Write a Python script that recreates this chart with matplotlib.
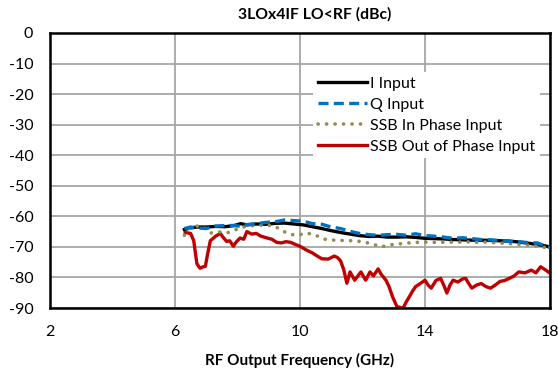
import matplotlib
matplotlib.use("Agg")
import matplotlib.pyplot as plt

plt.rcParams['font.family'] = ['Lato', 'DejaVu Sans']

title = "3LOx4IF LO<RF (dBc)"
xlabel = "RF Output Frequency (GHz)"
xticks = [2, 6, 10, 14, 18]
yticks = [0, -10, -20, -30, -40, -50, -60, -70, -80, -90]

i_freq = [6.3, 6.5, 6.7, 7.0, 7.3, 7.6, 7.9, 8.1, 8.3, 8.6, 8.9, 9.2, 9.5, 9.8, 10.1, 10.4, 10.7,
          11.0, 11.3, 11.6, 11.9, 12.2, 12.5, 12.8, 13.1, 13.4, 13.7, 14.0, 14.3, 14.6, 14.9, 15.2,
          15.5, 15.8, 16.1, 16.4, 16.7, 17.0, 17.3, 17.6, 17.8, 18.0]
i_vals = [-64.3, -63.8, -63.5, -63.5, -63.3, -63.4, -63.0, -62.4, -62.8, -62.5, -62.6, -62.3, -62.2,
          -62.5, -62.8, -63.4, -64.0, -64.7, -65.3, -65.8, -66.3, -66.6, -66.5, -66.8, -66.8, -66.7,
          -66.9, -67.2, -67.3, -67.4, -67.6, -67.7, -67.8, -67.8, -67.9, -68.0, -68.1, -68.4, -68.8,
          -69.2, -69.6, -70.0]

q_freq = i_freq
q_vals = [-64.0, -63.5, -63.8, -64.0, -63.2, -63.0, -63.0, -63.3, -62.7, -62.4, -62.0, -61.8, -61.2,
          -61.4, -61.6, -62.4, -62.6, -63.5, -64.0, -64.9, -65.6, -66.0, -66.2, -66.0, -65.9, -66.2,
          -65.7, -66.3, -66.5, -66.8, -67.2, -67.0, -67.3, -67.6, -67.7, -67.9, -68.2, -68.3, -68.6,
          -68.7, -69.5, -70.2]

ssb_in_freq = [6.3, 6.5, 6.7, 6.9, 7.1, 7.3, 7.5, 7.7, 7.9, 8.1, 8.3, 8.6, 8.9, 9.2, 9.4, 9.6, 9.8,
               10.0, 10.2, 10.5, 10.8, 11.1, 11.4, 11.7, 12.0, 12.3, 12.6, 12.9, 13.2, 13.5, 13.8,
               14.1, 14.4, 14.7, 15.0, 15.3, 15.6, 15.9, 16.2, 16.5, 16.8, 17.1, 17.4, 17.7, 18.0]
ssb_in_vals = [-66.2, -63.5, -63.2, -63.3, -65.5, -65.3, -65.0, -65.3, -64.5, -63.8, -63.2, -63.0,
               -62.8, -63.2, -64.6, -65.5, -66.1, -66.0, -65.4, -66.2, -67.5, -67.8, -67.9, -68.0,
               -68.3, -69.0, -70.0, -69.3, -69.0, -68.7, -68.5, -68.4, -68.6, -68.4, -68.5, -68.3,
               -68.5, -68.4, -68.6, -68.8, -69.0, -69.3, -69.4, -70.0, -70.4]

ssb_out_freq = [6.33, 6.5, 6.6, 6.7, 6.8, 6.9, 6.97, 7.05, 7.13, 7.3, 7.45, 7.55, 7.65, 7.75, 7.87,
                7.95, 8.08, 8.2, 8.3, 8.45, 8.6, 8.75, 8.95, 9.1, 9.25, 9.4, 9.55, 9.7, 9.85, 10.0,
                10.2, 10.4, 10.55, 10.7, 10.9, 11.1, 11.2, 11.3, 11.4, 11.5, 11.6, 11.75, 11.95,
                12.1, 12.24, 12.35, 12.5, 12.6, 12.75, 12.85, 12.96, 13.1, 13.2, 13.3, 13.4, 13.5,
                13.6, 13.7, 13.85, 14.0, 14.1, 14.2, 14.35, 14.5, 14.6, 14.7, 14.8, 14.9, 15.05,
                15.2, 15.3, 15.4, 15.5, 15.65, 15.8, 15.95, 16.1, 16.25, 16.4, 16.55, 16.7, 16.85,
                17.0, 17.2, 17.4, 17.55, 17.7, 17.85, 18.0]
ssb_out_vals = [-65.3, -65.6, -68.0, -75.5, -77.0, -76.5, -76.4, -72.0, -68.0, -66.5, -65.6, -67.0,
                -68.2, -68.0, -69.8, -68.5, -67.1, -67.5, -65.0, -65.8, -65.6, -66.5, -67.1, -67.5,
                -68.5, -68.7, -68.3, -68.5, -69.2, -69.8, -71.0, -72.0, -73.0, -73.9, -74.0, -73.0,
                -73.5, -74.6, -77.5, -81.9, -78.2, -80.9, -78.2, -80.9, -78.2, -79.5, -77.2, -79.0,
                -80.9, -83.0, -86.3, -89.5, -89.8, -90.0, -88.0, -86.3, -84.5, -83.0, -82.0, -80.9,
                -82.5, -83.5, -81.0, -80.3, -82.5, -85.1, -82.5, -80.9, -81.5, -80.5, -80.3, -82.0,
                -83.5, -82.5, -82.0, -83.0, -83.5, -82.5, -81.3, -81.0, -80.3, -79.5, -78.2, -78.5,
                -77.6, -78.5, -76.5, -77.5, -78.6]

fig = plt.figure(figsize=(5.58, 3.74), dpi=100)
L, R, T, B = 50, 550, 33, 308
ax = fig.add_axes([L/558, 1 - B/374, (R-L)/558, (B-T)/374])

ax.plot(i_freq, i_vals, color='black', lw=2.4, label='I Input', zorder=3)
ax.plot(q_freq, q_vals, color='#0070C0', lw=2.4, ls=(0, (3, 1.6)), label='Q Input', zorder=4)
ax.plot(ssb_in_freq, ssb_in_vals, color='#948A54', lw=2.6, ls=(0, (0.05, 2.3)),
        dash_capstyle='round', label='SSB In Phase Input', zorder=3)
ax.plot(ssb_out_freq, ssb_out_vals, color='#C00000', lw=2.4, label='SSB Out of Phase Input', zorder=2)

ax.set_xlim(2, 18)
ax.set_ylim(-90, 0)
ax.set_xticks(xticks)
ax.set_yticks(yticks)
ax.set_xticklabels([str(v) for v in xticks])
ax.set_yticklabels([str(v) for v in yticks])
ax.tick_params(length=0, labelsize=11.5, pad=12)
ax.grid(True, color='#A6A6A6', lw=1.3)
ax.set_axisbelow(True)
for s in ax.spines.values():
    s.set_linewidth(1.8)
    s.set_color('black')

ax.set_xlabel(xlabel, fontsize=11, fontweight='bold', labelpad=10)
fig.text(315/558, 1 - 14/374, title, ha='center', va='center', fontsize=11.3, fontweight='bold')

leg = ax.legend(loc='upper left', bbox_to_anchor=((313-L)/(R-L), (B-72)/(B-T)), frameon=True,
                fontsize=11.5, handlelength=3.1, handletextpad=0.2, borderaxespad=0,
                labelspacing=0.42, borderpad=0.3)
leg.get_frame().set_edgecolor('none')
leg.get_frame().set_facecolor('white')
leg.get_frame().set_alpha(1)

fig.savefig('out.png', dpi=100)
